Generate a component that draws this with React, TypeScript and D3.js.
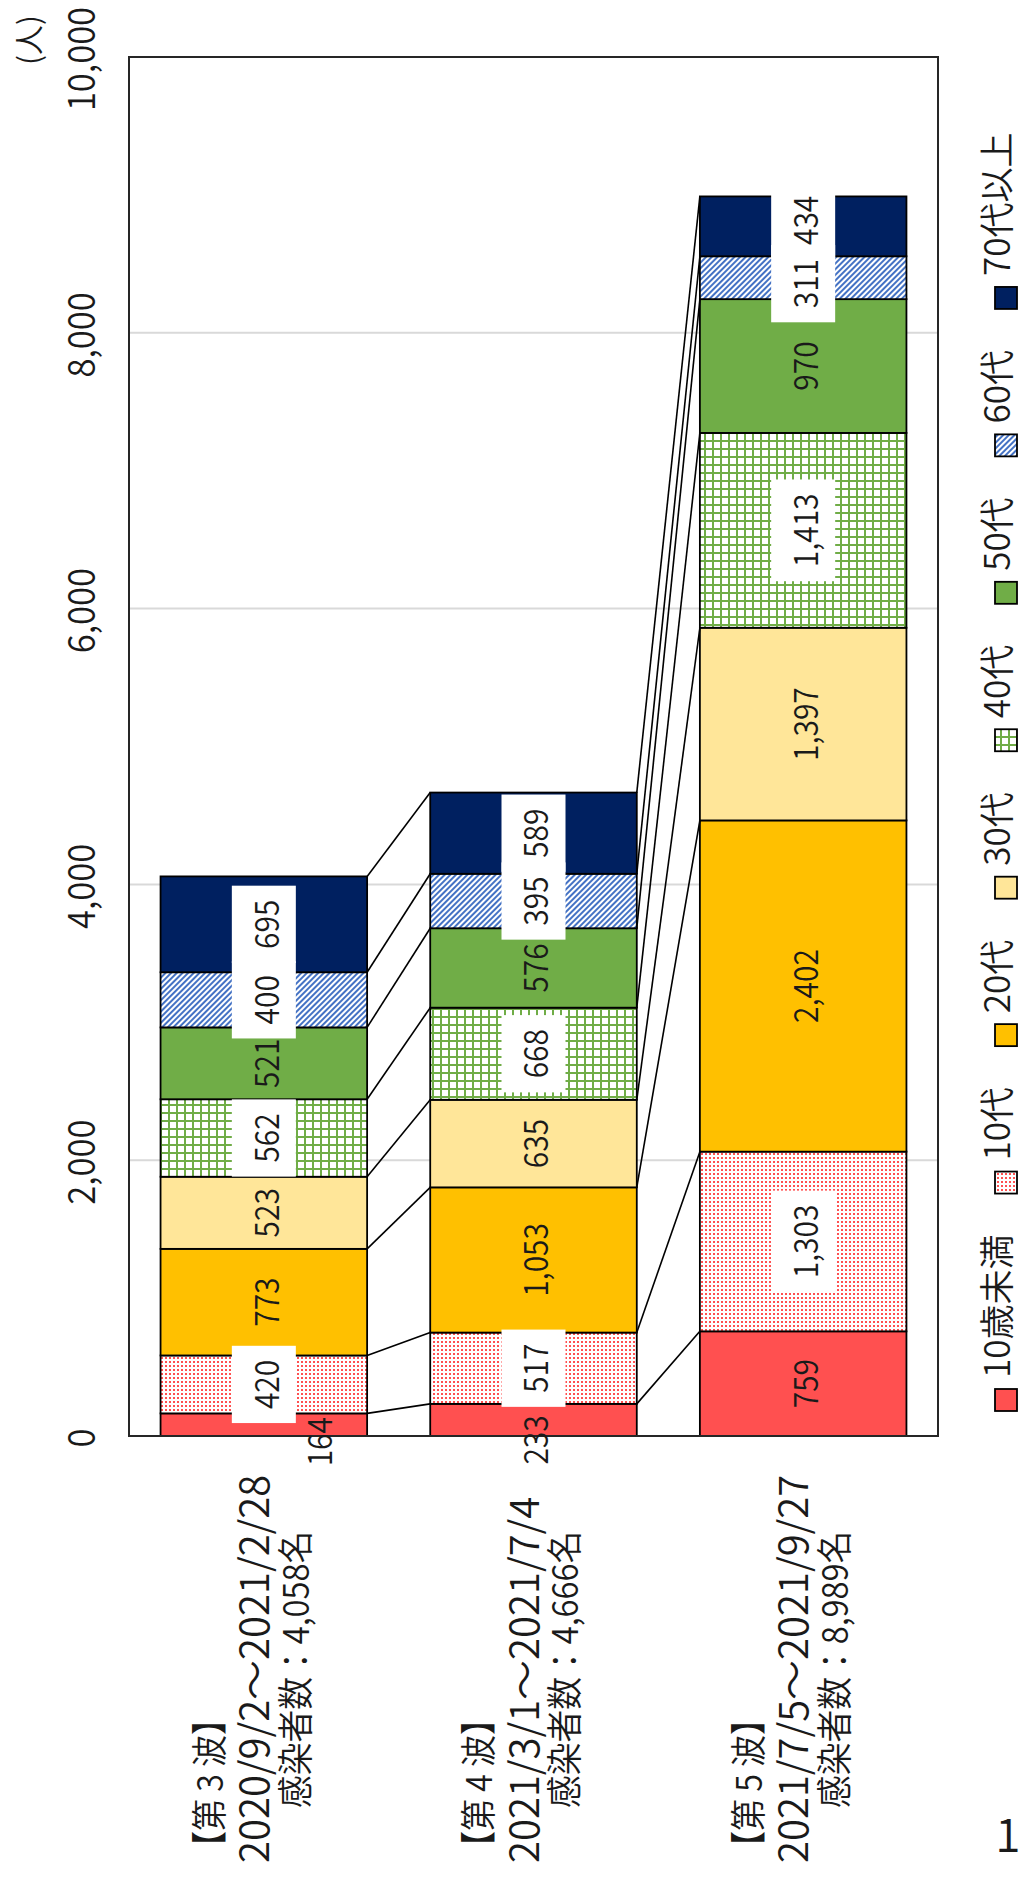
import { useEffect, useRef } from 'react'
import * as d3 from 'd3'

const waves = ['第3波', '第4波', '第5波']
const waveTitles = ['【第 3 波】', '【第 4 波】', '【第 5 波】']
const wavePeriods = ['2020/9/2～2021/2/28', '2021/3/1～2021/7/4', '2021/7/5～2021/9/27']
const waveTotals = ['感染者数：4,058名', '感染者数：4,666名', '感染者数：8,989名']
const ageGroups = ['10歳未満', '10代', '20代', '30代', '40代', '50代', '60代', '70代以上']

const under10 = [164, 233, 759]
const teens = [420, 517, 1303]
const twenties = [773, 1053, 2402]
const thirties = [523, 635, 1397]
const forties = [562, 668, 1413]
const fifties = [521, 576, 970]
const sixties = [400, 395, 311]
const over70 = [695, 589, 434]

const yTicks = [0, 2000, 4000, 6000, 8000, 10000]

const FONT = "'Noto Sans CJK JP', 'Noto Sans', sans-serif"

export default function App() {
  const svgRef = useRef<SVGSVGElement>(null)

  useEffect(() => {
    if (!svgRef.current) return
    document.body.style.margin = '0'

    const svg = d3.select(svgRef.current)
    svg.selectAll('*').remove()

    const plot = { left: 129, right: 938, top: 57, bottom: 1436 }

    const seriesValues = [under10, teens, twenties, thirties, forties, fifties, sixties, over70]
    const fills = ['#FF5050', 'url(#dots)', '#FFC000', '#FFE699', 'url(#grid)', '#70AD47', 'url(#stripes)', '#002060']
    const boxed = [false, true, false, false, true, false, true, true]

    const rows = waves.map((w, i) => {
      const r: any = { wave: w }
      ageGroups.forEach((a, k) => { r[a] = seriesValues[k][i] })
      return r
    })
    const stacked = d3.stack<any>().keys(ageGroups)(rows)

    const x = d3.scaleBand()
      .domain(waves)
      .range([plot.left, plot.right])
      .paddingInner(0.234)
      .paddingOuter(0.117)
    const bw = x.bandwidth()

    const y = d3.scaleLinear()
      .domain([0, 10000])
      .range([plot.bottom, plot.top])

    // rotated text, reading bottom -> top
    const vtext = (parent: any, px: number, py: number, str: string, size: number, sx: number, anchor = 'middle') =>
      parent.append('text')
        .attr('transform', `translate(${px},${py}) rotate(-90) scale(${sx},1)`)
        .attr('text-anchor', anchor)
        .attr('dominant-baseline', 'central')
        .style('font-family', FONT)
        .style('font-weight', 350)
        .style('font-size', `${size}px`)
        .style('fill', '#1a1a1a')
        .text(str)

    // Patterns
    const defs = svg.append('defs')
    const dots = defs.append('pattern').attr('id', 'dots')
      .attr('patternUnits', 'userSpaceOnUse').attr('width', 4).attr('height', 4)
    dots.append('rect').attr('width', 4).attr('height', 4).attr('fill', '#fff')
    dots.append('rect').attr('x', 1).attr('y', 1).attr('width', 2).attr('height', 2).attr('fill', '#FF5050')

    const grid = defs.append('pattern').attr('id', 'grid')
      .attr('patternUnits', 'userSpaceOnUse').attr('width', 8).attr('height', 8)
    grid.append('rect').attr('width', 8).attr('height', 8).attr('fill', '#fff')
    grid.append('rect').attr('width', 8).attr('height', 2).attr('fill', '#70AD47')
    grid.append('rect').attr('width', 2).attr('height', 8).attr('fill', '#70AD47')

    const stripes = defs.append('pattern').attr('id', 'stripes')
      .attr('patternUnits', 'userSpaceOnUse').attr('width', 4).attr('height', 4)
      .attr('patternTransform', 'rotate(45)')
    stripes.append('rect').attr('width', 4).attr('height', 4).attr('fill', '#fff')
    stripes.append('rect').attr('width', 2).attr('height', 4).attr('fill', '#4472C4')

    svg.append('rect').attr('width', 1020).attr('height', 1880).attr('fill', '#fff')

    // Gridlines
    svg.append('g')
      .selectAll('line')
      .data(yTicks.filter(t => t > 0 && t < 10000))
      .enter()
      .append('line')
      .attr('x1', plot.left).attr('x2', plot.right)
      .attr('y1', d => y(d)).attr('y2', d => y(d))
      .attr('stroke', '#D9D9D9').attr('stroke-width', 2)

    // Bars
    stacked.forEach((s, k) => {
      svg.append('g')
        .selectAll('rect')
        .data(s)
        .enter()
        .append('rect')
        .attr('x', (d: any) => x(d.data.wave) || 0)
        .attr('y', (d: any) => y(d[1]))
        .attr('width', bw)
        .attr('height', (d: any) => y(d[0]) - y(d[1]))
        .attr('fill', fills[k])
        .attr('stroke', '#000')
        .attr('stroke-width', 1.8)
    })

    // Series lines
    const links = svg.append('g')
    stacked.forEach(s => {
      for (let i = 0; i < waves.length - 1; i++) {
        links.append('line')
          .attr('x1', (x(waves[i]) || 0) + bw)
          .attr('y1', y(s[i][1]))
          .attr('x2', x(waves[i + 1]) || 0)
          .attr('y2', y(s[i + 1][1]))
          .attr('stroke', '#000')
          .attr('stroke-width', 1.6)
      }
    })

    // Plot border
    svg.append('rect')
      .attr('x', plot.left).attr('y', plot.top)
      .attr('width', plot.right - plot.left).attr('height', plot.bottom - plot.top)
      .attr('fill', 'none').attr('stroke', '#262626').attr('stroke-width', 2)

    // Data labels
    const labelSize = 34
    const labelSx = 0.88
    const boxLayer = svg.append('g')
    const textLayer = svg.append('g')
    // labels that do not fit in the thin bottom segment sit over the axis
    const nudges: Record<string, [number, number]> = { '0-0': [53, 17], '0-1': [0, 20] }
    const minGap = 14

    waves.forEach((w, i) => {
      const cx0 = (x(w) || 0) + bw / 2
      const labels = stacked.map((s, k) => {
        const d: any = s[i]
        const [dx, dy] = nudges[`${k}-${i}`] || [0, 0]
        const t = vtext(textLayer, cx0 + dx, 0, d3.format(',')(seriesValues[k][i]), labelSize, labelSx)
        const len = t.node().getComputedTextLength() * labelSx
        return { k, t, len, cx: cx0 + dx, cy: y((d[0] + d[1]) / 2) + dy, fixed: dx !== 0 || dy !== 0 }
      })
      // push apart labels that crowd each other (bottom to top)
      for (let j = 1; j < labels.length; j++) {
        const lo = labels[j - 1]
        const hi = labels[j]
        if (lo.fixed || hi.fixed) continue
        const gap = (lo.cy - lo.len / 2) - (hi.cy + hi.len / 2)
        if (gap < minGap) {
          const shift = (minGap - gap) / 2
          lo.cy += shift
          hi.cy -= shift
        }
      }
      labels.forEach(l => {
        l.t.attr('transform', `translate(${l.cx},${l.cy}) rotate(-90) scale(${labelSx},1)`)
        if (boxed[l.k]) {
          boxLayer.append('rect')
            .attr('x', l.cx - 32).attr('y', l.cy - l.len / 2 - 14)
            .attr('width', 64).attr('height', l.len + 28)
            .attr('fill', '#fff')
        }
      })
    })

    // Value axis labels
    const tickG = svg.append('g')
    yTicks.forEach(t => {
      vtext(tickG, 78, y(t) + 2, d3.format(',')(t), 38, 0.91)
    })
    vtext(svg, 27, 40, '(人)', 30, 1)

    // Category labels
    const catG = svg.append('g')
    waves.forEach((w, i) => {
      const c = (x(w) || 0) + bw / 2
      vtext(catG, c - 57, 1863, waveTitles[i], 36, 0.89, 'start')
      vtext(catG, c - 12, 1863, wavePeriods[i], 40, 1, 'start')
      vtext(catG, c + 29, 1808, waveTotals[i], 36, 0.91, 'start')
    })

    // Legend
    const legG = svg.append('g')
    let pos = 1400
    const legSx = 1.0
    ageGroups.forEach((a, k) => {
      legG.append('rect')
        .attr('x', 995).attr('y', pos - 11)
        .attr('width', 22).attr('height', 22)
        .attr('fill', fills[k]).attr('stroke', '#000').attr('stroke-width', 1.8)
      const t = vtext(legG, 994, pos - 22, a, 35, legSx, 'start')
      pos = pos - 22 - t.node().getComputedTextLength() * legSx - 52
    })

    // page number
    svg.append('text')
      .attr('x', 1008).attr('y', 1852)
      .attr('text-anchor', 'middle')
      .style('font-family', FONT)
      .style('font-weight', 350)
      .style('font-size', '46px')
      .style('fill', '#1a1a1a')
      .text('1')
  }, [])

  return <svg ref={svgRef} width={1020} height={1880} style={{ display: 'block' }} />
}
